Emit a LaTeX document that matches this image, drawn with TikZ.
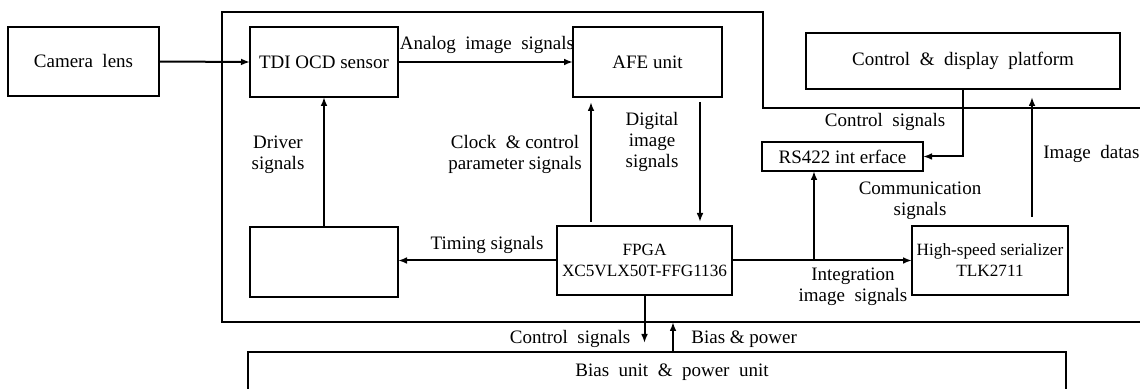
\documentclass[tikz,border=0pt]{standalone}
\usepackage{fontspec}
\setmainfont{Liberation Serif}
\usepackage{tikz}
\usetikzlibrary{arrows.meta, positioning, calc}
\tikzset{
  block/.style={rectangle, draw=black, line width=1pt, inner sep=0pt, outer sep=0pt, text centered, align=center},
  arrow/.style={line width=1pt, -{Latex[length=4.5pt,width=3.4pt]}},
  line/.style={line width=1pt},
  lbl/.style={align=center, inner sep=0pt, font=\fontsize{9.5}{10.5}\selectfont},
  small/.style={font=\fontsize{8.6}{10.5}\selectfont}
}

\begin{document}
\begin{tikzpicture}[x=0.5pt, y=-0.5pt, every node/.style={font=\fontsize{9.5}{10.5}\selectfont}]
\useasboundingbox (0,0) rectangle (1140,389);
\clip (0,0) rectangle (1140,389);

% Blocks
\node[block, minimum width=75.5pt, minimum height=34.5pt] (camera) at (83.5,61.5) {Camera\ \ lens};
\node[block, minimum width=74pt, minimum height=35pt] (tdi) at (324,62) {TDI OCD sensor};
\node[block, minimum width=74.5pt, minimum height=35pt] (afe) at (647.5,62) {AFE unit};
\node[block, minimum width=157pt, minimum height=28pt] (ctrl) at (963,61) {Control \ \& \ display \ platform};
\node[block, minimum width=80.5pt, minimum height=14.5pt] (rs) at (842.5,156.5) {RS422 int erface};
\node[block, minimum width=74pt, minimum height=35pt] (drv) at (324,262) {};
\node[block, small, minimum width=87.5pt, minimum height=34.5pt] (fpga) at (644.5,260.5) {FPGA\\XC5VLX50T-FFG1136};
\node[block, small, minimum width=78pt, minimum height=34.5pt] (ser) at (990,260.5) {High-speed serializer\\TLK2711};
\node[block, minimum width=409pt, minimum height=20pt] (bias) at (657,372) {\hspace{15pt}Bias \ unit \ \& \ power \ unit};

% Frame of the camera electronics
\coordinate (fb) at (222,322);
\draw[line] (1150,108) -| (763,12) -| (fb) -- (1150,322);

% Connectors
\draw[arrow] (camera.east) -- (tdi.west);
\draw[arrow] (tdi.east) -- (afe.west);
\draw[arrow] (drv.north) -- (tdi.south);
\draw[arrow] (fpga.west) -- (fpga.west -| drv.east);
\draw[arrow, shorten <=2pt, shorten >=2.5pt] ([xshift=-26.75pt]fpga.north) -- ([xshift=-26.75pt]fpga.north |- afe.south);
\draw[arrow, shorten <=2.5pt, shorten >=2pt] ([xshift=26.25pt]afe.south) -- ([xshift=26.25pt]afe.south |- fpga.north);
\draw[arrow] (fpga.east) -- (ser.west);
\coordinate (jn) at ([xshift=-14.25pt]rs.south |- fpga.east);
\draw[arrow] (jn) -- (jn |- rs.south);
\draw[arrow] (ctrl.south) |- (rs.east);
\draw[arrow, shorten <=4.5pt, shorten >=4pt] ([xshift=21pt]ser.north) -- ([xshift=21pt]ser.north |- ctrl.south);
\draw[arrow, shorten >=4.5pt] (fpga.south) -- (fpga.south |- bias.north);
\draw[arrow] ([xshift=8pt]bias.north) -- ([xshift=8pt]bias.north |- fb);

% Labels
\node[lbl] (l-analog) at (487,45) {Analog\ \ image\ \ signals};
\node[lbl] (l-driver) at (278,155) {Driver\\signals};
\node[lbl] (l-clock) at (515,154) {Clock \ \& control\\parameter signals};
\node[lbl] (l-digital) at (652,142) {Digital\\image\\signals};
\node[lbl] (l-ctrltop) at (885,122) {Control \ signals};
\node[lbl, anchor=west] (l-data) at (1043,154) {Image \ datas};
\node[lbl] (l-comm) at (920,201) {Communication\\signals};
\node[lbl] (l-timing) at (487,245) {Timing signals};
\node[lbl] (l-integ) at (853,287) {Integration\\image \ signals};
\node[lbl] (l-ctrlbot) at (570,339) {Control \ signals};
\node[lbl, anchor=west] (l-bias) at (691,339) {Bias \& power};
\end{tikzpicture}
\end{document}
